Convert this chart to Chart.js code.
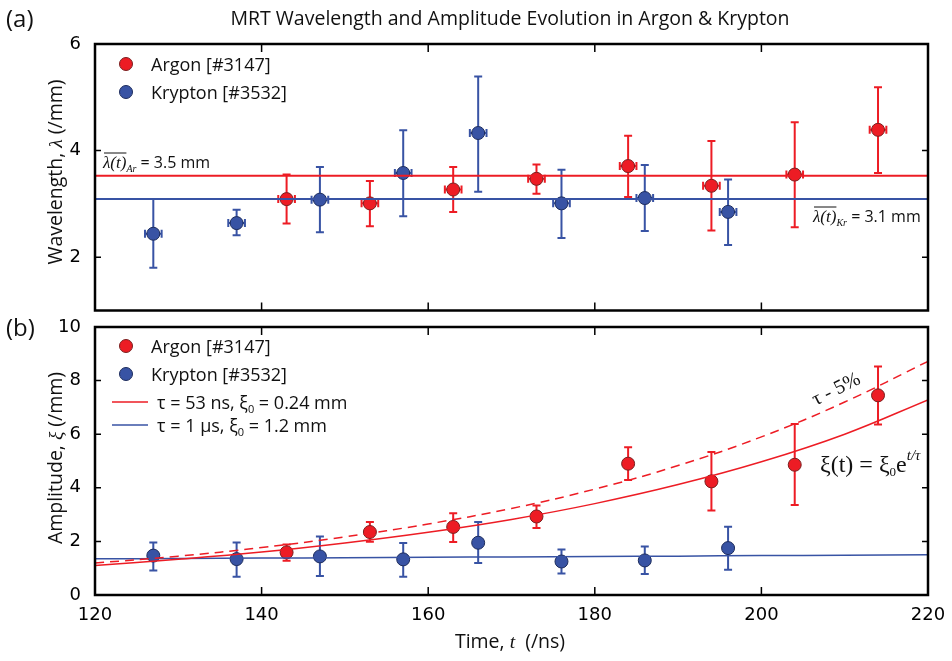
<!DOCTYPE html>
<html>
<head>
<meta charset="utf-8">
<script src="https://cdn.jsdelivr.net/npm/chart.js@4.4.1/dist/chart.umd.min.js"></script>
<style>
  body { margin: 0; background: #fff; }
  #wrap { position: relative; width: 952px; height: 661px; background: #fff; }
  #wrap canvas { position: absolute; left: 0; }
  #panelA { top: 0; }
  #panelB { top: 318px; }
</style>
</head>
<body>
<div id="wrap">
  <canvas id="panelA" width="952" height="318"></canvas>
  <canvas id="panelB" width="952" height="343"></canvas>
</div>
<script>
// ---- data ----
const seriesNames = ['Argon [#3147]', 'Krypton [#3532]'];
const fitNames = ['τ = 53 ns, ξ₀ = 0.24 mm', 'τ = 1 μs, ξ₀ = 1.2 mm'];
const xTicks = [120, 140, 160, 180, 200, 220];
const yTicksA = [2, 4, 6];
const yTicksB = [0, 2, 4, 6, 8, 10];

const timeAr = [143, 153, 163, 173, 184, 194, 204, 214];
const timeKr = [127, 137, 147, 157, 166, 176, 186, 196];
const timeErr = 1; // ns

// (a) wavelength
const lambdaAr   = [3.09, 3.01, 3.27, 3.47, 3.71, 3.34, 3.55, 4.39];
const lambdaArLo = [2.63, 2.58, 2.85, 3.19, 3.13, 2.50, 2.56, 3.58];
const lambdaArHi = [3.55, 3.43, 3.69, 3.74, 4.28, 4.18, 4.53, 5.19];
const lambdaKr   = [2.44, 2.64, 3.08, 3.58, 4.33, 3.01, 3.11, 2.85];
const lambdaKrLo = [1.80, 2.41, 2.47, 2.77, 3.23, 2.36, 2.49, 2.23];
const lambdaKrHi = [3.09, 2.89, 3.69, 4.38, 5.39, 3.64, 3.73, 3.46];
const meanLambdaAr = 3.53;
const meanLambdaKr = 3.09;

// (b) amplitude
const ampAr   = [1.59, 2.35, 2.54, 2.93, 4.90, 4.24, 4.86, 7.45];
const ampArLo = [1.28, 1.99, 1.98, 2.50, 4.29, 3.15, 3.36, 6.36];
const ampArHi = [1.88, 2.72, 3.05, 3.34, 5.51, 5.34, 6.38, 8.53];
const ampKr   = [1.47, 1.34, 1.44, 1.33, 1.95, 1.25, 1.29, 1.75];
const ampKrLo = [0.91, 0.68, 0.71, 0.68, 1.19, 0.80, 0.78, 0.94];
const ampKrHi = [1.96, 1.96, 2.18, 1.94, 2.72, 1.70, 1.81, 2.55];

// fitted curves, read at 10 ns steps
const fitT        = [120, 130, 140, 150, 160, 170, 180, 190, 200, 210, 220];
const fitAr       = [1.10, 1.33, 1.60, 1.94, 2.34, 2.82, 3.41, 4.12, 4.97, 6.00, 7.28];
const fitArMinus5 = [1.19, 1.45, 1.77, 2.17, 2.65, 3.23, 3.95, 4.83, 5.90, 7.20, 8.72];
const fitKr       = [1.35, 1.36, 1.38, 1.39, 1.41, 1.42, 1.44, 1.45, 1.47, 1.48, 1.50];

// ---- styling ----
const RED = '#ed1c24';
const BLUE = '#3853a4';
const SANS = '"Open Sans", "DejaVu Sans", sans-serif';
const SERIF = '"Liberation Serif", "DejaVu Serif", serif';
const TICKFONT = '"DejaVu Sans", sans-serif';

const pts = (xs, ys) => xs.map((x, i) => ({ x: x, y: ys[i] }));

function drawRich(ctx, x, y, parts, align) {
  let w = 0;
  parts.forEach(p => { ctx.font = p.font; w += ctx.measureText(p.t).width; });
  let cx = align === 'center' ? x - w / 2 : align === 'right' ? x - w : x;
  ctx.textAlign = 'left';
  ctx.textBaseline = 'alphabetic';
  const pos = [];
  parts.forEach(p => {
    ctx.font = p.font;
    ctx.fillText(p.t, cx, y + (p.dy || 0));
    const pw = ctx.measureText(p.t).width;
    pos.push([cx, pw]);
    cx += pw;
  });
  return pos;
}

// label with "₀" rendered as a real subscript
function subParts(label, size) {
  const parts = [];
  label.split('₀').forEach((s, i, arr) => {
    parts.push({ t: s, font: size + 'px ' + SANS });
    if (i < arr.length - 1) parts.push({ t: '0', font: Math.round(size * 0.6) + 'px ' + SANS, dy: 4 });
  });
  return parts;
}

const errorBars = {
  id: 'errorBars',
  beforeDatasetDraw(chart, args) {
    const ds = chart.data.datasets[args.index];
    if (!ds.errLo) return;
    const xs = chart.scales.x, ys = chart.scales.y, ctx = chart.ctx;
    ctx.save();
    ctx.strokeStyle = ds.errColor;
    ctx.lineWidth = 2;
    ds.data.forEach((p, i) => {
      const px = xs.getPixelForValue(p.x);
      const py = ys.getPixelForValue(p.y);
      const lo = ys.getPixelForValue(ds.errLo[i]);
      const hi = ys.getPixelForValue(ds.errHi[i]);
      ctx.beginPath();
      ctx.moveTo(px, lo); ctx.lineTo(px, hi);
      ctx.moveTo(px - 4, lo); ctx.lineTo(px + 4, lo);
      ctx.moveTo(px - 4, hi); ctx.lineTo(px + 4, hi);
      if (ds.xErr) {
        const l = xs.getPixelForValue(p.x - ds.xErr);
        const r = xs.getPixelForValue(p.x + ds.xErr);
        ctx.moveTo(l, py); ctx.lineTo(r, py);
        ctx.moveTo(l, py - 4); ctx.lineTo(l, py + 4);
        ctx.moveTo(r, py - 4); ctx.lineTo(r, py + 4);
      }
      ctx.stroke();
    });
    ctx.restore();
  }
};

// box with inward ticks on all four sides
function drawFrame(chart, yTicks) {
  const { ctx, chartArea: a } = chart;
  const xs = chart.scales.x, ys = chart.scales.y;
  ctx.save();
  ctx.strokeStyle = '#000';
  ctx.lineWidth = 1.5;
  ctx.beginPath();
  xTicks.forEach(v => {
    const px = xs.getPixelForValue(v);
    ctx.moveTo(px, a.top); ctx.lineTo(px, a.top + 8);
    ctx.moveTo(px, a.bottom); ctx.lineTo(px, a.bottom - 8);
  });
  yTicks.forEach(v => {
    const py = ys.getPixelForValue(v);
    ctx.moveTo(a.left, py); ctx.lineTo(a.left + 6, py);
    ctx.moveTo(a.right, py); ctx.lineTo(a.right - 6, py);
  });
  ctx.stroke();
  ctx.lineWidth = 2.5;
  ctx.strokeRect(a.left, a.top, a.right - a.left, a.bottom - a.top);
  ctx.restore();
}

function drawLegend(ctx, x, y, items) {
  ctx.save();
  items.forEach((it, i) => {
    const cy = y + i * it.step;
    if (it.kind === 'point') {
      ctx.beginPath();
      ctx.arc(x + 14, cy, 6.5, 0, Math.PI * 2);
      ctx.fillStyle = it.color; ctx.fill();
      ctx.lineWidth = 1; ctx.strokeStyle = it.border; ctx.stroke();
      ctx.fillStyle = '#111';
      drawRich(ctx, x + 39, cy + 6.5, subParts(it.label, 18), 'left');
    } else {
      ctx.beginPath();
      ctx.moveTo(x, cy); ctx.lineTo(x + 36, cy);
      ctx.strokeStyle = it.color; ctx.lineWidth = 1.6; ctx.stroke();
      ctx.fillStyle = '#111';
      drawRich(ctx, x + 45, cy + 6.5, subParts(it.label, 18), 'left');
    }
  });
  ctx.restore();
}

function yTitle(ctx, cx, cy, parts) {
  ctx.save();
  ctx.translate(cx, cy);
  ctx.rotate(-Math.PI / 2);
  ctx.fillStyle = '#111';
  drawRich(ctx, 0, 7, parts, 'center');
  ctx.restore();
}

function meanLabel(ctx, x, y, sub, value) {
  ctx.fillStyle = '#111';
  const pos = drawRich(ctx, x, y, [
    { t: 'λ(t)', font: 'italic 17px ' + SERIF },
    { t: sub, font: 'italic 10px ' + SERIF, dy: 4 },
    { t: ' = ' + value.toFixed(1) + ' mm', font: '16px ' + SANS }
  ], 'left');
  ctx.beginPath();
  ctx.moveTo(pos[0][0] + 1, y - 15); ctx.lineTo(pos[0][0] + pos[0][1], y - 15);
  ctx.strokeStyle = '#111'; ctx.lineWidth = 1; ctx.stroke();
}

const pointStyle = (color, border) => ({
  backgroundColor: color, borderColor: border, borderWidth: 1,
  pointRadius: 6.5, pointHoverRadius: 6.5, showLine: false
});

function scalesFor(yMin, yMax, yTicks, showX) {
  return {
    x: {
      type: 'linear', min: 120, max: 220, display: showX,
      afterBuildTicks: s => { s.ticks = xTicks.map(v => ({ value: v })); },
      afterFit: s => { s.height = showX ? 66 : 0; s.paddingLeft = 0; s.paddingRight = 0; },
      grid: { display: false }, border: { display: false },
      ticks: { color: '#000', padding: 3, font: { family: TICKFONT, size: 18, lineHeight: 1 } }
    },
    y: {
      type: 'linear', min: yMin, max: yMax,
      afterBuildTicks: s => { s.ticks = yTicks.map(v => ({ value: v })); },
      afterFit: s => { s.width = 95; s.paddingTop = 0; s.paddingBottom = 0; },
      grid: { display: false }, border: { display: false },
      ticks: { color: '#000', padding: 6, font: { family: TICKFONT, size: 18, lineHeight: 1 } }
    }
  };
}

const baseOpts = {
  responsive: false,
  animation: false,
  events: [],
  plugins: { legend: { display: false }, tooltip: { enabled: false } }
};

// ---- panel (a) ----
new Chart(document.getElementById('panelA'), {
  type: 'scatter',
  data: {
    datasets: [
      { data: pts([120, 220], [meanLambdaAr, meanLambdaAr]), showLine: true, borderColor: RED, borderWidth: 2, pointRadius: 0 },
      { data: pts([120, 220], [meanLambdaKr, meanLambdaKr]), showLine: true, borderColor: BLUE, borderWidth: 2, pointRadius: 0 },
      Object.assign({ label: seriesNames[0], data: pts(timeAr, lambdaAr), errLo: lambdaArLo, errHi: lambdaArHi, xErr: timeErr, errColor: RED }, pointStyle(RED, '#7a1f1f')),
      Object.assign({ label: seriesNames[1], data: pts(timeKr, lambdaKr), errLo: lambdaKrLo, errHi: lambdaKrHi, xErr: timeErr, errColor: BLUE }, pointStyle(BLUE, '#1d2c5c'))
    ]
  },
  options: Object.assign({}, baseOpts, {
    layout: { padding: { top: 44, right: 24, bottom: 6, left: 0 } },
    scales: scalesFor(1, 6, yTicksA, false)
  }),
  plugins: [errorBars, {
    id: 'decorA',
    afterDraw(chart) {
      const ctx = chart.ctx;
      drawFrame(chart, yTicksA);
      ctx.save();
      ctx.fillStyle = '#111';
      ctx.font = '24px ' + SANS;
      ctx.textAlign = 'left'; ctx.textBaseline = 'alphabetic';
      ctx.fillText('(a)', 6, 27);
      ctx.font = '19.5px ' + SANS;
      ctx.textAlign = 'center';
      ctx.fillText('MRT Wavelength and Amplitude Evolution in Argon & Krypton', 510, 25);
      yTitle(ctx, 55, 172, [
        { t: 'Wavelength, ', font: '19.5px ' + SANS },
        { t: 'λ', font: 'italic 19.5px ' + SERIF },
        { t: ' (/mm)', font: '19.5px ' + SANS }
      ]);
      meanLabel(ctx, 103, 168, 'Ar', meanLambdaAr);
      meanLabel(ctx, 813, 222, 'Kr', meanLambdaKr);
      drawLegend(ctx, 112, 64, [
        { kind: 'point', color: RED, border: '#7a1f1f', label: seriesNames[0], step: 28 },
        { kind: 'point', color: BLUE, border: '#1d2c5c', label: seriesNames[1], step: 28 }
      ]);
      ctx.restore();
    }
  }]
});

// ---- panel (b) ----
new Chart(document.getElementById('panelB'), {
  type: 'scatter',
  data: {
    datasets: [
      { label: 'τ - 5%', data: pts(fitT, fitArMinus5), showLine: true, borderColor: RED, borderWidth: 1.5, borderDash: [9, 6], pointRadius: 0, tension: 0.4 },
      { label: fitNames[0], data: pts(fitT, fitAr), showLine: true, borderColor: RED, borderWidth: 1.5, pointRadius: 0, tension: 0.4 },
      { label: fitNames[1], data: pts(fitT, fitKr), showLine: true, borderColor: BLUE, borderWidth: 1.5, pointRadius: 0, tension: 0.4 },
      Object.assign({ label: seriesNames[0], data: pts(timeAr, ampAr), errLo: ampArLo, errHi: ampArHi, errColor: RED }, pointStyle(RED, '#7a1f1f')),
      Object.assign({ label: seriesNames[1], data: pts(timeKr, ampKr), errLo: ampKrLo, errHi: ampKrHi, errColor: BLUE }, pointStyle(BLUE, '#1d2c5c'))
    ]
  },
  options: Object.assign({}, baseOpts, {
    layout: { padding: { top: 9, right: 24, bottom: 0, left: 0 } },
    scales: scalesFor(0, 10, yTicksB, true)
  }),
  plugins: [errorBars, {
    id: 'decorB',
    afterDraw(chart) {
      const ctx = chart.ctx;
      drawFrame(chart, yTicksB);
      ctx.save();
      ctx.fillStyle = '#111';
      ctx.font = '24px ' + SANS;
      ctx.textAlign = 'left'; ctx.textBaseline = 'alphabetic';
      ctx.fillText('(b)', 6, 18);
      yTitle(ctx, 55, 140, [
        { t: 'Amplitude, ', font: '19.5px ' + SANS },
        { t: 'ξ', font: 'italic 19.5px ' + SERIF },
        { t: ' (/mm)', font: '19.5px ' + SANS }
      ]);
      drawRich(ctx, 510, 330, [
        { t: 'Time, ', font: '19.5px ' + SANS },
        { t: 't', font: 'italic 19.5px ' + SERIF },
        { t: '  (/ns)', font: '19.5px ' + SANS }
      ], 'center');
      drawLegend(ctx, 112, 28, [
        { kind: 'point', color: RED, border: '#7a1f1f', label: seriesNames[0], step: 28 },
        { kind: 'point', color: BLUE, border: '#1d2c5c', label: seriesNames[1], step: 28 }
      ]);
      drawLegend(ctx, 112, 84, [
        { kind: 'line', color: RED, label: fitNames[0], step: 23 },
        { kind: 'line', color: BLUE, label: fitNames[1], step: 23 }
      ]);
      // annotations
      ctx.save();
      ctx.translate(836, 71);
      ctx.rotate(-0.46);
      ctx.fillStyle = '#111';
      drawRich(ctx, 0, 6, [{ t: chart.data.datasets[0].label, font: '20px ' + SERIF }], 'center');
      ctx.restore();
      ctx.fillStyle = '#111';
      drawRich(ctx, 820, 154, [
        { t: 'ξ(t) = ξ', font: '24px ' + SERIF },
        { t: '0', font: '13px ' + SERIF, dy: 4 },
        { t: 'e', font: '24px ' + SERIF },
        { t: 't/τ', font: 'italic 15px ' + SERIF, dy: -12 }
      ], 'left');
      ctx.restore();
    }
  }]
});
</script>
</body>
</html>
